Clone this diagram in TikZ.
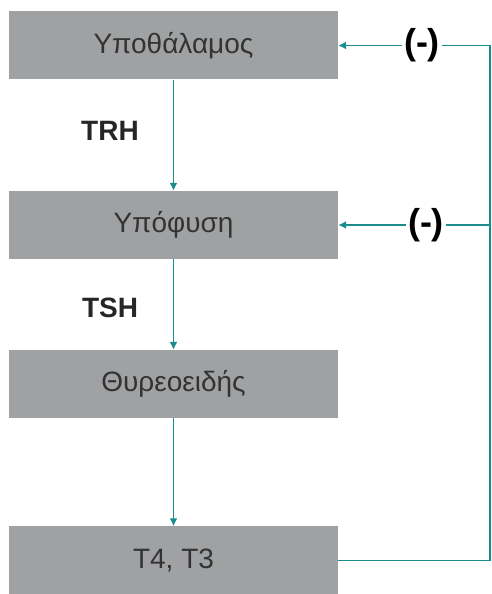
\documentclass[tikz,border=0pt]{standalone}
\usepackage{fontspec}
\setmainfont{Liberation Sans}
\usetikzlibrary{arrows.meta}
\definecolor{boxgray}{HTML}{A0A1A3}
\definecolor{tealc}{HTML}{1A8C8C}
\definecolor{txt}{HTML}{333333}
\tikzset{
  stagebox/.style={fill=boxgray, draw=none, minimum width=329pt, minimum height=68pt, inner sep=0pt, text=txt, font=\fontsize{28}{32}\selectfont},
  lbl/.style={text=black!85, font=\bfseries\fontsize{28}{31}\selectfont, inner sep=0pt},
  neg/.style={fill=white, text=black, font=\bfseries\fontsize{36}{40}\selectfont, inner sep=2pt},
  conn/.style={draw=tealc, line width=1.8pt, -{Latex[length=8pt,width=8pt]}},
  fb/.style={draw=tealc, line width=1.8pt}
}
\begin{document}
\begin{tikzpicture}[x=1pt,y=1pt]
\useasboundingbox (0,0) rectangle (491,594);
\node[stagebox] (b1) at (173.5,548.5) {Υποθάλαμος};
\node[stagebox] (b2) at (173.5,369) {Υπόφυση};
\node[stagebox] (b3) at (173.5,210) {Θυρεοειδής};
\node[stagebox] (b4) at (173.5,33.5) {T4, T3};
\node[lbl] (trh) at (110,463) {TRH};
\node[lbl] (tsh) at (110,286) {TSH};
\draw[conn] (b1.south) -- (b2.north);
\draw[conn] (b2.south) -- (b3.north);
\draw[conn] (b3.south) -- (b4.north);
\coordinate (rb) at (490,33.5);
\coordinate (rt) at (490,548.5);
\coordinate (rm) at (490,369);
\draw[fb] (b4.east) -- (rb) -- (rt);
\draw[conn] (rt) -- (b1.east);
\draw[conn] (rm) -- (b2.east);
\node[neg] (n1) at (422,548.5) {(-)};
\node[neg] (n2) at (426,369) {(-)};
\end{tikzpicture}
\end{document}
